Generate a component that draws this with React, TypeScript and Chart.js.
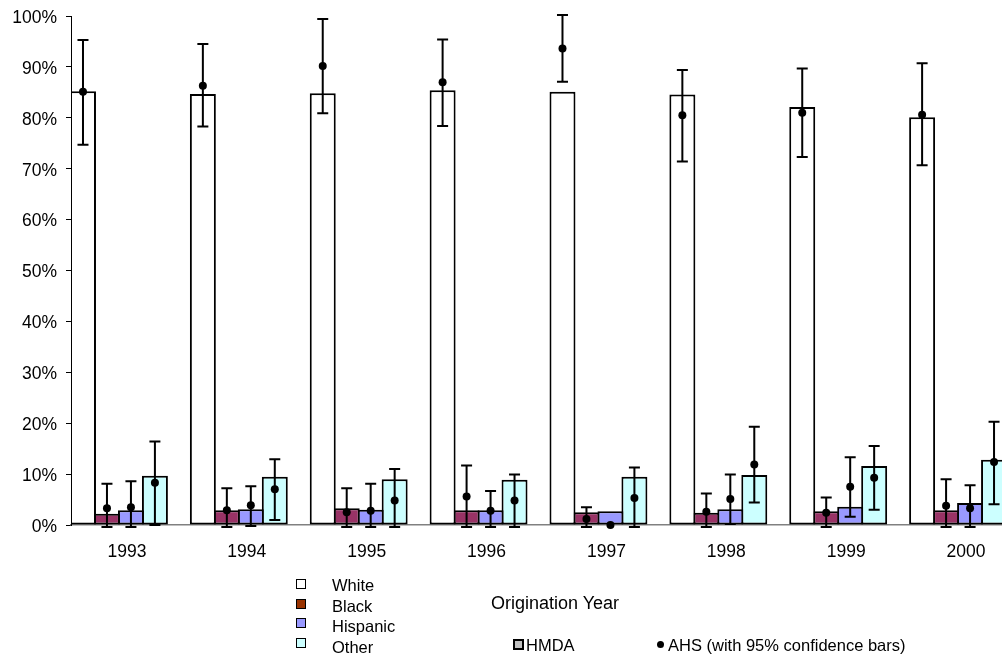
import React, { useEffect, useRef } from "react";
import { Chart, registerables } from "chart.js";

Chart.register(...registerables);

const years = ["1993", "1994", "1995", "1996", "1997", "1998", "1999", "2000"];

// HMDA shares (%)
const hmdaWhite = [85.2, 84.7, 84.8, 85.4, 85.1, 84.6, 82.1, 80.1];
const hmdaBlack = [2.2, 2.9, 3.3, 2.9, 2.5, 2.4, 2.7, 2.9];
const hmdaHispanic = [2.9, 3.1, 3.0, 2.9, 2.7, 3.1, 3.6, 4.3];
const hmdaOther = [9.7, 9.5, 9.0, 8.9, 9.5, 9.8, 11.6, 12.8];
const spacer = [0, 0, 0, 0, 0, 0, 0, 0];

// AHS estimates with 95% confidence bounds (%)
const ahsWhite = [85.1, 86.3, 90.2, 87.0, 93.6, 80.5, 81.0, 80.6];
const ahsWhiteLow = [74.7, 78.3, 80.9, 78.4, 87.1, 71.4, 72.3, 70.7];
const ahsWhiteHigh = [95.3, 94.5, 99.4, 95.4, 100.2, 89.4, 89.7, 90.7];
const ahsBlack = [3.3, 2.9, 2.5, 5.6, 1.2, 2.6, 2.4, 3.8];
const ahsBlackLow = [-0.4, -0.4, -0.4, -0.4, -0.4, -0.4, -0.4, -0.4];
const ahsBlackHigh = [8.1, 7.2, 7.2, 11.7, 3.5, 6.2, 5.4, 9.0];
const ahsHispanic = [3.5, 3.9, 2.8, 2.8, 0.0, 5.1, 7.5, 3.3];
const ahsHispanicLow = [-0.4, -0.2, -0.4, -0.4, null, 0.2, 1.6, -0.4];
const ahsHispanicHigh = [8.6, 7.6, 8.1, 6.7, null, 9.9, 13.3, 7.8];
const ahsOther = [8.3, 7.0, 4.8, 4.8, 5.3, 11.9, 9.3, 12.4];
const ahsOtherLow = [0.0, 1.0, -0.4, -0.4, -0.4, 4.4, 3.0, 4.1];
const ahsOtherHigh = [16.4, 12.9, 11.0, 9.9, 11.3, 19.3, 15.5, 20.3];

const seriesLabels = ["White", "Black", "Hispanic", "Other"];
const barColors = ["#ffffff", "#993366", "#9999ff", "#ccffff"];
const legendColors = ["#ffffff", "#993300", "#9999ff", "#ccffff"];

const FONT = '"Liberation Sans", Arial, sans-serif';

const ahsGroups: [number[], (number | null)[], (number | null)[]][] = [
  [ahsWhite, ahsWhiteLow, ahsWhiteHigh],
  [ahsBlack, ahsBlackLow, ahsBlackHigh],
  [ahsHispanic, ahsHispanicLow, ahsHispanicHigh],
  [ahsOther, ahsOtherLow, ahsOtherHigh],
];

const ahsPlugin = {
  id: "ahsPoints",
  afterDatasetsDraw(chart: any) {
    const ctx = chart.ctx;
    const ys = chart.scales.y;
    ctx.save();
    ahsGroups.forEach((g, di) => {
      const meta = chart.getDatasetMeta(di);
      g[0].forEach((v, i) => {
        const bar = meta.data[i];
        if (!bar) return;
        const x = bar.x;
        const lo = g[1][i];
        const hi = g[2][i];
        ctx.strokeStyle = "#000";
        ctx.lineWidth = 2;
        if (lo != null && hi != null) {
          const yl = ys.getPixelForValue(lo);
          const yh = ys.getPixelForValue(hi);
          ctx.beginPath();
          ctx.moveTo(x, yl);
          ctx.lineTo(x, yh);
          ctx.moveTo(x - 5.5, yl);
          ctx.lineTo(x + 5.5, yl);
          ctx.moveTo(x - 5.5, yh);
          ctx.lineTo(x + 5.5, yh);
          ctx.stroke();
        }
        ctx.beginPath();
        ctx.arc(x, ys.getPixelForValue(v), 4, 0, Math.PI * 2);
        ctx.fillStyle = "#000";
        ctx.fill();
      });
    });
    ctx.restore();
  },
};

export default function App() {
  const ref = useRef<HTMLCanvasElement>(null);

  useEffect(() => {
    const hmda = [hmdaWhite, hmdaBlack, hmdaHispanic, hmdaOther];
    const datasets: any[] = hmda.map((d, i) => ({
      label: seriesLabels[i],
      data: d,
      backgroundColor: barColors[i],
      borderColor: "#000",
      borderWidth: 2,
      borderSkipped: false,
      categoryPercentage: 1,
      barPercentage: 26 / 24,
    }));
    datasets.push({
      label: "",
      data: spacer,
      backgroundColor: "rgba(0,0,0,0)",
      borderWidth: 0,
      categoryPercentage: 1,
      barPercentage: 26 / 24,
    });
    const chart = new Chart(ref.current!, {
      type: "bar",
      data: { labels: years, datasets },
      plugins: [ahsPlugin],
      options: {
        responsive: false,
        animation: false,
        layout: { padding: { top: 0, right: 10, left: 0, bottom: 0 } },
        plugins: { legend: { display: false }, tooltip: { enabled: false } },
        scales: {
          x: {
            grid: { display: false, drawTicks: false },
            border: { display: true, color: "#808080", width: 1.5 },
            ticks: {
              color: "#000",
              font: { family: FONT, size: 17.5 },
              padding: 17,
              labelOffset: -4,
              maxRotation: 0,
              autoSkip: false,
            },
            afterFit: (s: any) => {
              s.height = 129;
            },
          },
          y: {
            min: 0,
            max: 100,
            grid: {
              display: true,
              drawOnChartArea: false,
              drawTicks: true,
              tickLength: 5,
              color: "#000",
              lineWidth: 1,
            },
            border: { display: true, color: "#000", width: 1 },
            ticks: {
              stepSize: 10,
              color: "#000",
              font: { family: FONT, size: 17.5 },
              padding: 9,
              labelOffset: 2,
              callback: (v: any) => v + "%",
            },
            afterFit: (s: any) => {
              s.width = 71;
              s.paddingTop = 16;
              s.paddingBottom = 0;
            },
          },
        },
      },
    });
    return () => chart.destroy();
  }, []);

  const legendTops = [579, 599, 618, 638];
  const textCenters = [585, 605.5, 626, 646.5];

  return (
    <div
      style={{
        position: "fixed",
        left: 0,
        top: 0,
        width: 1002,
        height: 654,
        overflow: "hidden",
        background: "#fff",
        fontFamily: FONT,
        color: "#000",
      }}
    >
      <canvas
        ref={ref}
        width={1040}
        height={654}
        style={{ position: "absolute", left: 0, top: 0, width: 1040, height: 654 }}
      />
      {seriesLabels.map((lab, i) => (
        <React.Fragment key={lab}>
          <div
            style={{
              position: "absolute",
              left: 296,
              top: legendTops[i],
              width: 10,
              height: 10,
              boxSizing: "border-box",
              border: "1px solid #000",
              background: legendColors[i],
            }}
          />
          <div
            style={{
              position: "absolute",
              left: 332,
              top: textCenters[i] - 10,
              height: 20,
              lineHeight: "20px",
              fontSize: 16.5,
              whiteSpace: "nowrap",
            }}
          >
            {lab}
          </div>
        </React.Fragment>
      ))}
      <div
        style={{
          position: "absolute",
          left: 491,
          top: 593,
          height: 20,
          lineHeight: "20px",
          fontSize: 18,
          whiteSpace: "nowrap",
        }}
      >
        Origination Year
      </div>
      <div
        style={{
          position: "absolute",
          left: 513,
          top: 639,
          width: 11,
          height: 11,
          boxSizing: "border-box",
          border: "2px solid #000",
          background: "#c0c0c0",
        }}
      />
      <div
        style={{
          position: "absolute",
          left: 526,
          top: 635,
          height: 20,
          lineHeight: "20px",
          fontSize: 16.5,
          whiteSpace: "nowrap",
        }}
      >
        HMDA
      </div>
      <div
        style={{
          position: "absolute",
          left: 657,
          top: 641,
          width: 7,
          height: 7,
          borderRadius: 4,
          background: "#000",
        }}
      />
      <div
        style={{
          position: "absolute",
          left: 668,
          top: 635,
          height: 20,
          lineHeight: "20px",
          fontSize: 16.5,
          whiteSpace: "nowrap",
        }}
      >
        AHS (with 95% confidence bars)
      </div>
    </div>
  );
}
